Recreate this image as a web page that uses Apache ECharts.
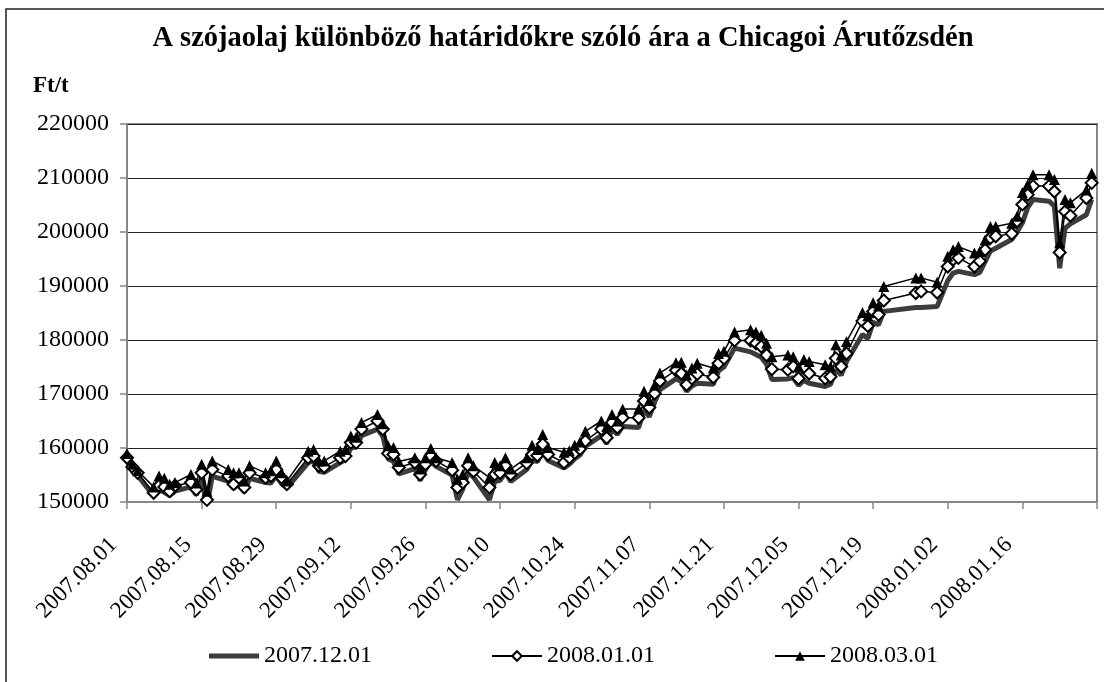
<!DOCTYPE html>
<html>
<head>
<meta charset="utf-8">
<script src="https://cdn.jsdelivr.net/npm/echarts@6/dist/echarts.min.js"></script>
<style>
html,body{margin:0;padding:0;background:#fff;}
#chart{width:1104px;height:682px;}
</style>
</head>
<body>
<div id="chart"></div>
<script>
const titleText = 'A szójaolaj különböző határidőkre szóló ára a Chicagoi Árutőzsdén';
const unitText = 'Ft/t';
const seriesNames = ['2007.12.01', '2008.01.01', '2008.03.01'];
const xStart = '2007-08-01';
const xEnd = '2008-01-30';
const yTicks = [150000, 160000, 170000, 180000, 190000, 200000, 210000, 220000];

const dates = [
'2007-08-01','2007-08-02','2007-08-03','2007-08-06','2007-08-07','2007-08-08','2007-08-09','2007-08-10','2007-08-13','2007-08-14','2007-08-15','2007-08-16','2007-08-17','2007-08-20','2007-08-21','2007-08-22','2007-08-23','2007-08-24','2007-08-27','2007-08-28','2007-08-29','2007-08-30','2007-08-31',
'2007-09-04','2007-09-05','2007-09-06','2007-09-07','2007-09-10','2007-09-11','2007-09-12','2007-09-13','2007-09-14','2007-09-17','2007-09-18','2007-09-19','2007-09-20','2007-09-21','2007-09-24','2007-09-25','2007-09-26','2007-09-27','2007-09-28',
'2007-10-01','2007-10-02','2007-10-03','2007-10-04','2007-10-05','2007-10-08','2007-10-09','2007-10-10','2007-10-11','2007-10-12','2007-10-15','2007-10-16','2007-10-17','2007-10-18','2007-10-19','2007-10-22','2007-10-23','2007-10-24','2007-10-25','2007-10-26','2007-10-29','2007-10-30','2007-10-31',
'2007-11-01','2007-11-02','2007-11-05','2007-11-06','2007-11-07','2007-11-08','2007-11-09','2007-11-12','2007-11-13','2007-11-14','2007-11-15','2007-11-16','2007-11-19','2007-11-20','2007-11-21','2007-11-23','2007-11-26','2007-11-27','2007-11-28','2007-11-29','2007-11-30',
'2007-12-03','2007-12-04','2007-12-05','2007-12-06','2007-12-07','2007-12-10','2007-12-11','2007-12-12','2007-12-13','2007-12-14','2007-12-17','2007-12-18','2007-12-19','2007-12-20','2007-12-21','2007-12-27','2007-12-28','2007-12-31',
'2008-01-02','2008-01-03','2008-01-04','2008-01-07','2008-01-08','2008-01-09','2008-01-10','2008-01-11','2008-01-14','2008-01-15','2008-01-16','2008-01-17','2008-01-18','2008-01-21','2008-01-22','2008-01-23','2008-01-24','2008-01-25','2008-01-28','2008-01-29'
];

const dec2007 = [
157800,156000,154900,151100,152300,151800,151200,152000,152800,151300,154500,149300,154800,153800,152500,153400,151800,154400,153600,153500,154800,153400,152600,
157300,157600,155700,155500,157300,157800,160000,160200,162300,163500,162200,158000,157500,155200,156200,154000,156000,157500,156600,
155000,150400,152400,155500,154600,150400,153800,154000,155500,153800,156000,157700,157500,159400,157700,156300,157000,158000,158700,160300,162300,160800,163500,
162500,164000,163800,167000,165800,168500,170800,172800,172300,170500,171500,172000,171800,174300,175000,178500,177800,177300,176800,175500,172700,
172800,173000,171600,172500,172000,171400,171800,174500,173500,176000,181000,180300,183300,182800,185300,186000,186000,186200,
191000,192400,192700,192100,192500,194500,196500,197000,198600,200000,201700,204500,206000,205700,204800,193300,200700,201500,203200,206000
];

const jan2008 = [
158200,156500,155400,151700,153000,152800,152000,153000,153600,152300,155400,150400,156000,154800,153300,154500,152700,155400,154500,154800,156000,154500,153300,
158200,158500,156700,156500,158200,158500,161000,161000,163500,165000,163500,159000,158800,156400,157300,155100,157000,158500,157600,
155900,152700,153600,156700,155700,152700,155100,155400,156700,155100,157200,158800,158600,160700,158800,157300,158200,159100,159800,161300,163500,161900,164700,
163800,165600,165600,168700,167500,170100,172400,174400,173800,171700,172900,173700,173100,175700,176600,179900,179900,179400,178800,177200,174600,
174500,175100,172900,174800,173800,172900,173200,176600,175100,177500,183500,182600,185300,184700,187300,188700,189000,188800,
193600,194900,195200,193600,194600,196700,198900,199200,199700,202000,205100,206900,208500,208500,207500,196200,203800,203000,206300,209100
];

const mar2008 = [
159000,157000,155800,152800,154800,154400,153300,153600,155100,153500,157000,152000,157600,156000,155400,155400,153900,156700,155400,155800,157600,155400,153900,
159400,159700,157600,157600,159400,159700,162200,162000,164700,166200,164500,160400,160100,157500,158200,156100,158200,159900,158200,
157300,154200,155100,158200,156700,154500,157300,156700,158200,156100,158200,160500,159700,162500,160100,159200,159500,160500,161100,163100,165000,164000,166200,
165000,167200,167200,170500,168800,171600,173900,175800,175900,173500,174800,175700,174800,177500,177900,181500,181900,181500,180900,179400,176900,
177200,176900,175100,176400,176000,175400,175100,179100,177200,179700,185100,184500,186900,186300,189900,191500,191500,190700,
195500,196700,197300,196100,196400,198500,201000,201000,201600,202900,207300,208800,210600,210600,209700,198000,206000,205400,207800,210900
];

const DAY = 86400000;
const t0 = Date.parse(xStart + 'T00:00:00Z');
function dayOf(s){ return Math.round((Date.parse(s + 'T00:00:00Z') - t0) / DAY); }
function pad(n){ return (n < 10 ? '0' : '') + n; }
function fmtDay(d){
  const t = new Date(t0 + d * DAY);
  return t.getUTCFullYear() + '.' + pad(t.getUTCMonth() + 1) + '.' + pad(t.getUTCDate());
}
const xMax = dayOf(xEnd);
function pairs(vals){ return dates.map((d, i) => [dayOf(d), vals[i]]); }

const SERIF = '"Liberation Serif", "Times New Roman", serif';
const chart = echarts.init(document.getElementById('chart'), null, {renderer: 'canvas'});
chart.setOption({
  animation: false,
  backgroundColor: '#fff',
  graphic: [
    {type: 'rect', z: -10, shape: {x: 6, y: 9, width: 1200, height: 800}, style: {fill: '#fff', stroke: '#222', lineWidth: 1.5}},
    {type: 'text', x: 563, y: 39, style: {text: titleText, font: 'bold 28.5px ' + SERIF, fill: '#000', textAlign: 'center', textVerticalAlign: 'middle'}},
    {type: 'text', x: 33, y: 86, style: {text: unitText, font: 'bold 23px ' + SERIF, fill: '#000', textAlign: 'left', textVerticalAlign: 'middle'}}
  ],
  grid: {left: 127, right: 7, top: 124, bottom: 180, show: true, borderColor: '#868686', borderWidth: 2, backgroundColor: 'transparent'},
  legend: {
    left: 204, top: 639, itemGap: 119, itemWidth: 50, itemHeight: 12,
    textStyle: {fontFamily: SERIF, fontSize: 24, color: '#000'},
    data: [
      {name: seriesNames[0], icon: 'path://M0,0H50V5H0Z'},
      {name: seriesNames[1]},
      {name: seriesNames[2]}
    ]
  },
  xAxis: {
    type: 'value', min: 0, max: xMax, interval: 14,
    axisLine: {show: true, lineStyle: {color: '#868686', width: 2}},
    axisTick: {show: true, length: 7, lineStyle: {color: '#868686', width: 1.5}},
    splitLine: {show: false},
    axisLabel: {
      rotate: 45, margin: 26, padding: [0, 19, 0, 0], color: '#000', fontFamily: SERIF, fontSize: 23,
      showMinLabel: true, showMaxLabel: true,
      formatter: v => (v >= xMax ? '' : fmtDay(v))
    }
  },
  yAxis: {
    type: 'value', min: yTicks[0], max: yTicks[yTicks.length - 1], interval: 10000,
    axisLine: {show: true, lineStyle: {color: '#868686', width: 2}},
    axisTick: {show: true, length: 7, lineStyle: {color: '#868686', width: 1.5}},
    splitLine: {show: true, lineStyle: {color: '#222', width: 1}},
    axisLabel: {margin: 18, color: '#000', fontFamily: SERIF, fontSize: 24, formatter: v => String(v)}
  },
  series: [
    {
      name: seriesNames[0], type: 'line', data: pairs(dec2007), symbol: 'none', clip: true,
      color: '#3c3c3c', lineStyle: {color: '#3c3c3c', width: 5}, itemStyle: {color: '#3c3c3c'}
    },
    {
      name: seriesNames[1], type: 'line', data: pairs(jan2008), symbol: 'diamond', symbolSize: 12, showSymbol: true, clip: true,
      color: '#000', lineStyle: {color: '#000', width: 1.5},
      itemStyle: {color: '#fff', borderColor: '#000', borderWidth: 2}
    },
    {
      name: seriesNames[2], type: 'line', data: pairs(mar2008), symbol: 'triangle', symbolSize: 11, showSymbol: true, clip: true,
      color: '#000', lineStyle: {color: '#000', width: 1.5}, itemStyle: {color: '#000'}
    }
  ]
});
</script>
</body>
</html>
